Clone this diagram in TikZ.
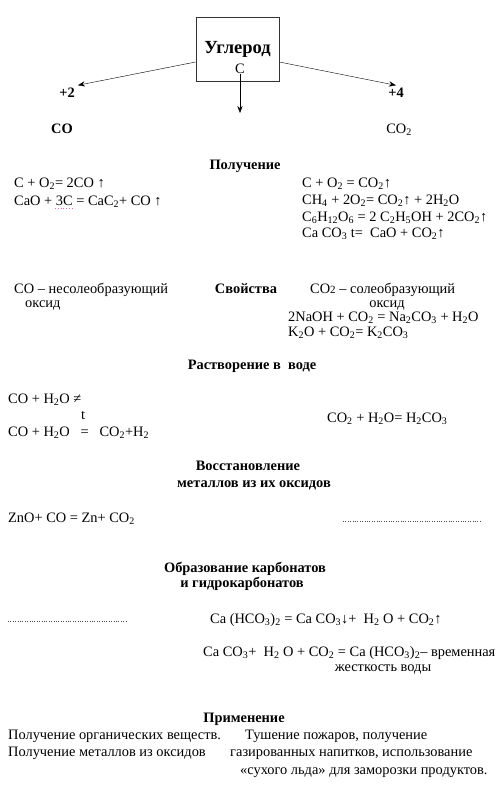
\documentclass[tikz,border=0pt]{standalone}
\usepackage{fontspec}
\setmainfont{Liberation Serif}
\usetikzlibrary{arrows.meta, positioning}
\newcommand{\chs}[1]{\textsubscript{#1}}

\begin{document}
\begin{tikzpicture}[>=Stealth, x=1pt, y=-1pt,
  font=\fontsize{14.4}{16}\selectfont,
  txt/.style={anchor=base west, inner sep=0pt},
  hd/.style={anchor=base, inner sep=0pt, font=\fontsize{14.4}{16}\selectfont\bfseries},
  box/.style={draw=black!80, line width=0.8pt, minimum width=83pt, minimum height=64pt,
    font=\fontsize{18.5}{20}\selectfont\bfseries}]
  \fill[white] (0,0) rectangle (500,800);
  \useasboundingbox (0,0) rectangle (500,800);

  % Углерод
  \node[box] (ugl) at (237.5,49) {Углерод};
  \node[txt, anchor=base] (c) at (240,74) {C};
  \node[hd] (plus2) at (67,97) {+2};
  \node[hd] (plus4) at (396,97) {+4};
  \node[hd] (co) at (62,133) {CO};
  \node[txt, anchor=base] (co2) at (399,133) {CO\chs{2}};
  \coordinate (cdown) at (240,113);
  \draw[-{Stealth[length=7pt]}] ([yshift=-13pt]ugl.west) -- ([shift={(3pt,2pt)}]plus2.north east);
  \draw[-{Stealth[length=7pt]}] ([yshift=-13pt]ugl.east) -- ([yshift=2pt]plus4.north);
  \draw[-{Stealth[length=7pt]}] (c.south) -- (cdown);

  % Получение
  \node[hd] (poluch) at (245,169) {Получение};
  \node[txt] (p1) at (14,187) {C + O\chs{2}= 2CO ↑};
  \node[txt] (p2) at (14,205) {CaO + 3C = CaC\chs{2}+ CO ↑};
  \draw[magenta!60, dotted, thick] (55,208) -- (74,208);
  \node[txt] (q1) at (302,187) {C + O\chs{2} = CO\chs{2}↑};
  \node[txt] (q2) at (302,204) {CH\chs{4} + 2O\chs{2}= CO\chs{2}↑ + 2H\chs{2}O};
  \node[txt] (q3) at (302,221) {C\chs{6}H\chs{12}O\chs{6} = 2 C\chs{2}H\chs{5}OH + 2CO\chs{2}↑};
  \node[txt] (q4) at (302,237) {Ca CO\chs{3} t=\ \ CaO + CO\chs{2}↑};

  % Свойства
  \node[hd] (svoj) at (246,293) {Свойства};
  \node[txt] (s1) at (14,293) {CO – несолеобразующий};
  \node[txt] (s2) at (25,307) {оксид};
  \node[txt] (t1) at (310,293) {CO{\fontsize{11}{12}\selectfont 2} – солеобразующий};
  \node[txt, anchor=base] (t2) at (387,307) {оксид};
  \node[txt] (t3) at (288,321) {2NaOH + CO\chs{2} = Na\chs{2}CO\chs{3} + H\chs{2}O};
  \node[txt] (t4) at (288,336) {K\chs{2}O + CO\chs{2}= K\chs{2}CO\chs{3}};

  % Растворение в воде
  \node[hd] (rastv) at (252,369) {Растворение в\ \ воде};
  \node[txt] (r1) at (8,403) {CO + H\chs{2}O ≠};
  \node[txt, anchor=base] (rt) at (83,419) {t};
  \node[txt] (r2) at (8,436) {CO + H\chs{2}O\ \ \ =\ \ \ CO\chs{2}+H\chs{2}};
  \node[txt] (r3) at (327,422) {CO\chs{2} + H\chs{2}O= H\chs{2}CO\chs{3}};

  % Восстановление
  \node[hd] (vosst) at (248,470) {Восстановление};
  \node[hd] (vosst2) at (254,487) {металлов из их оксидов};
  \node[txt] (z1) at (8,522) {ZnO+ CO = Zn+ CO\chs{2}};
  \draw[dotted, black!70] (343,521) -- (480,521);

  % Образование карбонатов
  \node[hd] (obr) at (245,572) {Образование карбонатов};
  \node[hd] (obr2) at (242,587) {и гидрокарбонатов};
  \draw[dotted, black!70] (8,621) -- (127,621);
  \node[txt] (k1) at (210,623) {Ca (HCO\chs{3})\chs{2} = Ca CO\chs{3}↓+\ \ H\chs{2} O + CO\chs{2}↑};
  \node[txt] (k2) at (203,656) {Ca CO\chs{3}+\ \ H\chs{2} O + CO\chs{2} = Ca (HCO\chs{3})\chs{2}– временная};
  \node[txt, anchor=base] (k3) at (383,671) {жесткость воды};

  % Применение
  \node[hd] (prim) at (244,722) {Применение};
  \node[txt] (a1) at (8,739) {Получение органических веществ.};
  \node[txt] (a2) at (245,739) {Тушение пожаров, получение};
  \node[txt] (a3) at (8,756) {Получение металлов из оксидов};
  \node[txt] (a4) at (230,756) {газированных напитков, использование};
  \node[txt] (a5) at (240,774) {«сухого льда» для заморозки продуктов.};
\end{tikzpicture}
\end{document}
